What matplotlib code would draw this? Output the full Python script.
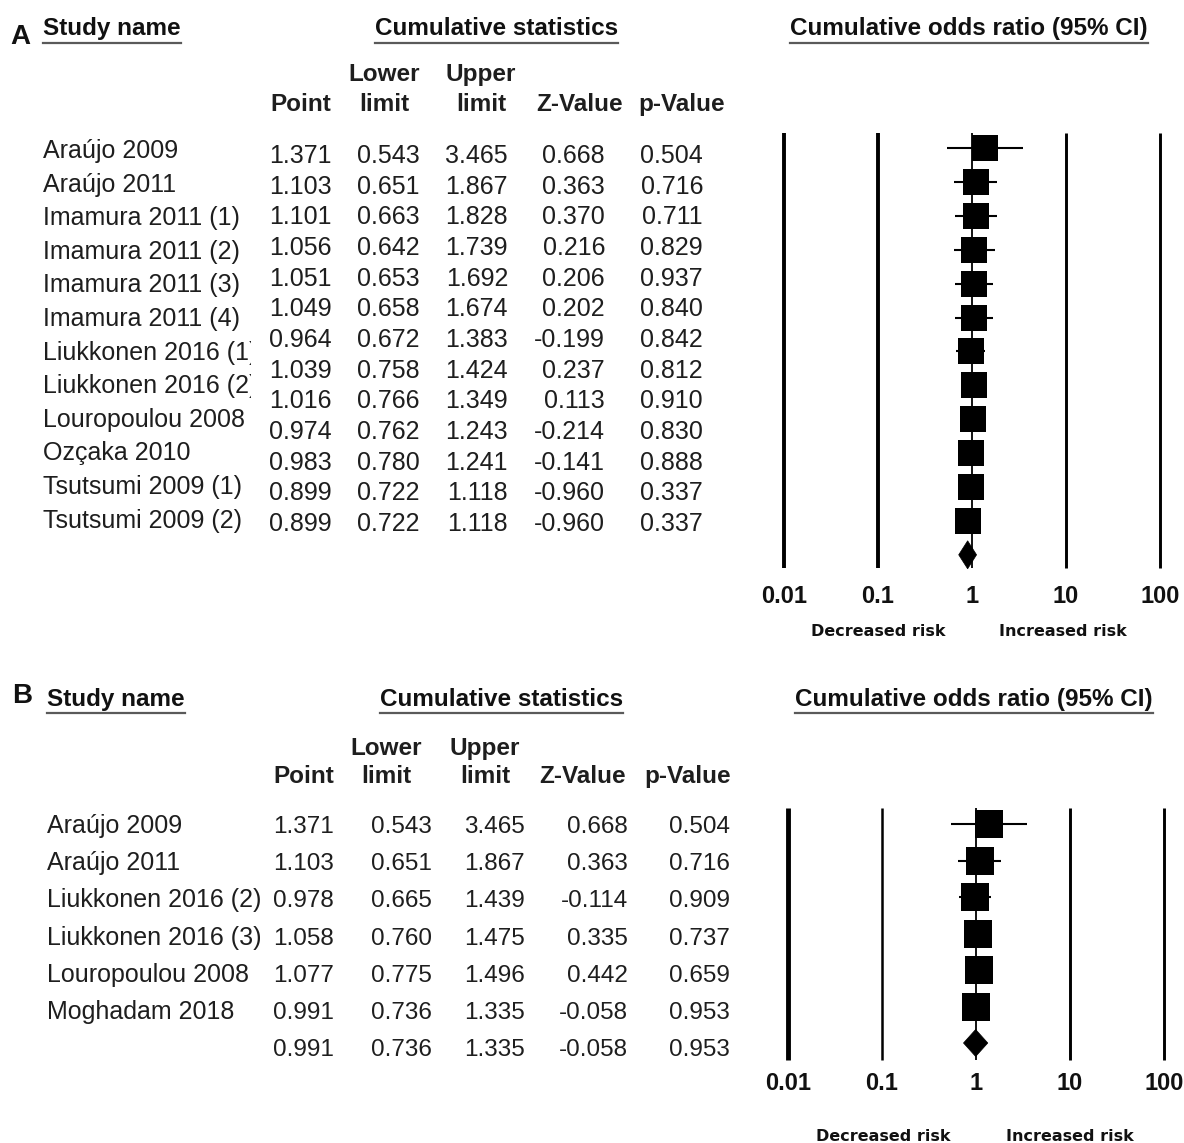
import matplotlib
matplotlib.use("Agg")
import matplotlib.pyplot as plt
from matplotlib.lines import Line2D
from matplotlib.patches import Polygon
from matplotlib.transforms import Bbox, TransformedBbox

W, H = 1184, 1143
DPI = 100

# ---- Panel A: cumulative meta-analysis ----
a_studies = ["Araújo 2009", "Araújo 2011", "Imamura 2011 (1)", "Imamura 2011 (2)",
             "Imamura 2011 (3)", "Imamura 2011 (4)", "Liukkonen 2016 (1)",
             "Liukkonen 2016 (2)", "Louropoulou 2008", "Ozçaka 2010",
             "Tsutsumi 2009 (1)", "Tsutsumi 2009 (2)"]
a_point = [1.371, 1.103, 1.101, 1.056, 1.051, 1.049, 0.964, 1.039, 1.016, 0.974, 0.983, 0.899, 0.899]
a_lower = [0.543, 0.651, 0.663, 0.642, 0.653, 0.658, 0.672, 0.758, 0.766, 0.762, 0.780, 0.722, 0.722]
a_upper = [3.465, 1.867, 1.828, 1.739, 1.692, 1.674, 1.383, 1.424, 1.349, 1.243, 1.241, 1.118, 1.118]
a_z = [0.668, 0.363, 0.370, 0.216, 0.206, 0.202, -0.199, 0.237, 0.113, -0.214, -0.141, -0.960, -0.960]
a_p = [0.504, 0.716, 0.711, 0.829, 0.937, 0.840, 0.842, 0.812, 0.910, 0.830, 0.888, 0.337, 0.337]

# ---- Panel B ----
b_studies = ["Araújo 2009", "Araújo 2011", "Liukkonen 2016 (2)", "Liukkonen 2016 (3)",
             "Louropoulou 2008", "Moghadam 2018"]
b_point = [1.371, 1.103, 0.978, 1.058, 1.077, 0.991, 0.991]
b_lower = [0.543, 0.651, 0.665, 0.760, 0.775, 0.736, 0.736]
b_upper = [3.465, 1.867, 1.439, 1.475, 1.496, 1.335, 1.335]
b_z = [0.668, 0.363, -0.114, 0.335, 0.442, -0.058, -0.058]
b_p = [0.504, 0.716, 0.909, 0.737, 0.659, 0.953, 0.953]

x_ticks = [0.01, 0.1, 1, 10, 100]
x_tick_labels = ["0.01", "0.1", "1", "10", "100"]

TXT = "#1e1e1e"
FONT = "Liberation Sans"

fig = plt.figure(figsize=(W / DPI, H / DPI), dpi=DPI)
fig.patch.set_facecolor("white")
renderer = fig.canvas.get_renderer()


def fx(x):
    return x / W


def fy(y):
    return 1 - y / H


def put(x, y, s, ha="left", size=18, weight="normal", family=FONT, color=TXT, clip_right=None):
    t = fig.text(fx(x), fy(y), s, ha=ha, va="baseline", fontsize=size,
                 fontweight=weight, family=family, color=color)
    if clip_right is not None:
        t.set_clip_on(True)
        t.set_clip_box(TransformedBbox(Bbox([[0, 0], [clip_right / W, 1]]), fig.transFigure))
    return t


def underlined(x, y, s, uy, size=17.5):
    t = put(x, y, s, size=size, weight="bold", color="#111111")
    bb = t.get_window_extent(renderer=renderer)
    fig.add_artist(Line2D([bb.x0 / W, bb.x1 / W], [fy(uy), fy(uy)],
                          transform=fig.transFigure, color="#5a5a5a", lw=1.6))
    return t


def fmt(v):
    return f"{v:.3f}"


def table(names, point, lower, upper, zval, pval, cfg):
    put(cfg["letter_x"], cfg["letter_y"], cfg["letter"], size=20, weight="bold", color="#111111")
    underlined(cfg["name_x"], cfg["title_y"], "Study name", cfg["ul_y"])
    underlined(cfg["stats_x"], cfg["title_y"], "Cumulative statistics", cfg["ul_y"])
    underlined(cfg["or_x"], cfg["title_y"], "Cumulative odds ratio (95% CI)", cfg["ul_y"])

    hx = cfg["head_x"]
    put(hx["lower"], cfg["head1_y"], "Lower", ha="center", size=17.5, weight="bold")
    put(hx["upper"], cfg["head1_y"], "Upper", ha="center", size=17.5, weight="bold")
    put(hx["point"], cfg["head2_y"], "Point", ha="right", size=17.5, weight="bold")
    put(hx["lower"], cfg["head2_y"], "limit", ha="center", size=17.5, weight="bold")
    put(hx["upper"], cfg["head2_y"], "limit", ha="center", size=17.5, weight="bold")
    put(hx["z"], cfg["head2_y"], "Z-Value", ha="center", size=17.5, weight="bold")
    put(hx["p"], cfg["head2_y"], "p-Value", ha="center", size=17.5, weight="bold")

    for i, n in enumerate(names):
        put(cfg["name_x"], cfg["name_y0"] + i * cfg["name_dy"], n, size=18,
            clip_right=cfg["name_clip"])

    cx = cfg["col_x"]
    for i in range(len(point)):
        y = cfg["val_y0"] + i * cfg["val_dy"]
        for key, arr in (("point", point), ("lower", lower), ("upper", upper),
                         ("z", zval), ("p", pval)):
            put(cx[key], y, fmt(arr[i]), ha="right", size=cfg["val_size"])


def forest(point, lower, upper, cfg):
    L, R, T, B = cfg["box"]
    x1, dpx = cfg["x_one"], cfg["decade"]
    r0, dr = cfg["row0"], cfg["row_dy"]
    ax = fig.add_axes([fx(L), fy(B), (R - L) / W, (B - T) / H])
    ax.set_xscale("log")
    ax.set_xlim(10 ** ((L - x1) / dpx), 10 ** ((R - x1) / dpx))
    ax.set_ylim((B - r0) / dr, (T - r0) / dr)
    ax.set_axis_off()

    def row(ypx):
        return (ypx - r0) / dr

    ytop, ybot = row(cfg["line_top"]), row(cfg["line_bot"])
    for v, lw in zip(x_ticks, cfg["line_w"]):
        ax.plot([v, v], [ytop, ybot], color="black", lw=lw, solid_capstyle="butt", zorder=1)

    n = len(point) - 1
    rows = list(range(n))
    ax.hlines(rows, lower[:n], upper[:n], color="black", lw=1.5, zorder=2)
    ax.plot(point[:n], rows, "s", color="black", ms=cfg["ms"], mew=0, zorder=3)

    h = cfg["diamond_h"] / dr
    r = n
    ax.add_patch(Polygon([(lower[n], r), (point[n], r - h), (upper[n], r), (point[n], r + h)],
                         closed=True, facecolor="black", edgecolor="black", lw=0.5, zorder=3))

    for v, lab in zip(x_ticks, x_tick_labels):
        px = x1 + dpx * {0.01: -2, 0.1: -1, 1: 0, 10: 1, 100: 2}[v]
        put(px, cfg["tick_y"], lab, ha="center", size=17, weight="bold", color="#111111")
    put(cfg["dec_x"], cfg["risk_y"], "Decreased risk", ha="center", size=11.5,
        weight="bold", family="DejaVu Sans", color="#111111")
    put(cfg["inc_x"], cfg["risk_y"], "Increased risk", ha="center", size=11.5,
        weight="bold", family="DejaVu Sans", color="#111111")
    return ax


cfg_a = dict(letter="A", letter_x=10, letter_y=44, name_x=43, stats_x=375, or_x=790,
             title_y=35, ul_y=43, head1_y=81, head2_y=111,
             head_x=dict(point=331, lower=384, upper=481, z=580, p=682),
             name_y0=158, name_dy=33.6, name_clip=251,
             col_x=dict(point=332, lower=420, upper=508, z=605, p=703),
             val_y0=163, val_dy=30.67, val_size=18)
cfg_b = dict(letter="B", letter_x=12, letter_y=703, name_x=47, stats_x=380, or_x=795,
             title_y=706, ul_y=713, head1_y=755, head2_y=783,
             head_x=dict(point=334, lower=386, upper=485, z=583, p=688),
             name_y0=833, name_dy=37.2, name_clip=400,
             col_x=dict(point=334, lower=432, upper=525, z=628, p=730),
             val_y0=833, val_dy=37.2, val_size=17.5)

table(a_studies, a_point, a_lower, a_upper, a_z, a_p, cfg_a)
table(b_studies, b_point, b_lower, b_upper, b_z, b_p, cfg_b)

forest(a_point, a_lower, a_upper,
       dict(box=(760, 1180, 120, 580), x_one=972, decade=94, row0=148, row_dy=33.9,
            line_top=133, line_bot=568, line_w=[2.8, 2.8, 1.3, 2.1, 2.1], ms=19,
            diamond_h=14, tick_y=603, risk_y=636, dec_x=878, inc_x=1063))
forest(b_point, b_lower, b_upper,
       dict(box=(765, 1183, 795, 1070), x_one=976, decade=94, row0=824, row_dy=36.5,
            line_top=808, line_bot=1060, line_w=[3.5, 1.8, 1.3, 2.1, 2.1], ms=19.5,
            diamond_h=13.5, tick_y=1090, risk_y=1141, dec_x=883, inc_x=1070))

fig.savefig("out.png", dpi=DPI, facecolor="white")
